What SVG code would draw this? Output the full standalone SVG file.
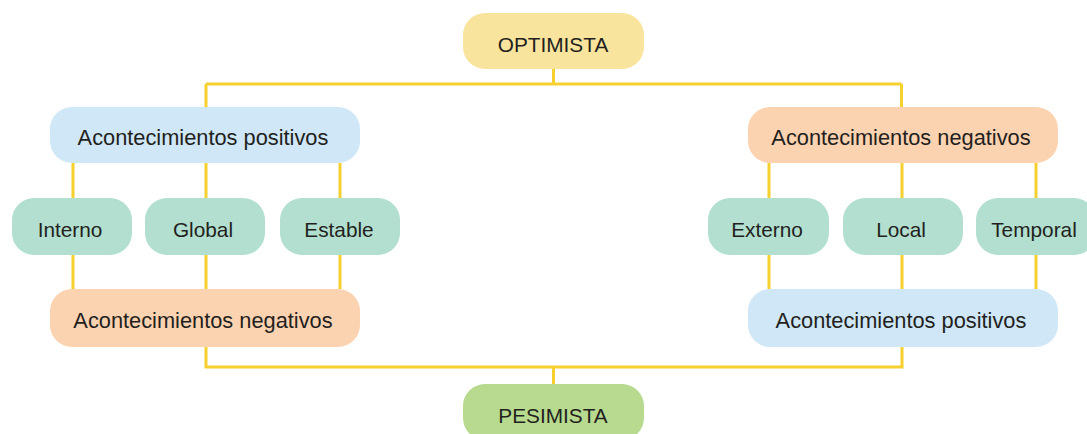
<svg xmlns="http://www.w3.org/2000/svg" width="1087" height="434" viewBox="0 0 1087 434">
<style>
.t{font-family:"Liberation Sans",Arial,sans-serif;font-size:20.8px;fill:#231F20;text-anchor:middle}
.l{font-size:21.8px}
.ln{fill:none;stroke:#F6D02E;stroke-width:3}
.y{fill:#F8E49C}.b{fill:#CFE7F7}.o{fill:#FCD3B1}.g{fill:#B2DFCF}.p{fill:#B8DA8F}
</style>
<rect width="1087" height="434" fill="#fff"/>
<g id="connectors" class="ln">
<path d="M553.5 69V84M206 84H901.5M206 84V107M901.5 84V107"/>
<path d="M73 163V198M206 163V198M340 163V198M73 255V289M206 255V289M340 255V289"/>
<path d="M769 163V198M902 163V198M1036 163V198M769 255V289M902 255V289M1036 255V289"/>
<path d="M206 347V367H902V347M553.5 367V384"/>
</g>
<g id="optimista"><rect class="y" x="463" y="13" width="181" height="56" rx="22"/><text class="t" x="553" y="52">OPTIMISTA</text></g>
<g id="pos-left"><rect class="b" x="50" y="107" width="310" height="56" rx="22"/><text class="t l" x="203" y="145">Acontecimientos positivos</text></g>
<g id="interno"><rect class="g" x="12" y="198" width="120" height="57" rx="22"/><text class="t" x="70" y="237">Interno</text></g>
<g id="global"><rect class="g" x="145" y="198" width="120" height="57" rx="22"/><text class="t" x="203" y="237">Global</text></g>
<g id="estable"><rect class="g" x="280" y="198" width="120" height="57" rx="22"/><text class="t" x="339" y="237">Estable</text></g>
<g id="neg-left"><rect class="o" x="50" y="289" width="310" height="58" rx="22"/><text class="t l" x="203" y="328">Acontecimientos negativos</text></g>
<g id="neg-right"><rect class="o" x="748" y="107" width="310" height="56" rx="22"/><text class="t l" x="901" y="145">Acontecimientos negativos</text></g>
<g id="externo"><rect class="g" x="708" y="198" width="121" height="57" rx="22"/><text class="t" x="767" y="237">Externo</text></g>
<g id="local"><rect class="g" x="843" y="198" width="120" height="57" rx="22"/><text class="t" x="901" y="237">Local</text></g>
<g id="temporal"><rect class="g" x="976" y="198" width="120" height="57" rx="22"/><text class="t" x="1034" y="237">Temporal</text></g>
<g id="pos-right"><rect class="b" x="748" y="289" width="310" height="58" rx="22"/><text class="t l" x="901" y="328">Acontecimientos positivos</text></g>
<g id="pesimista"><rect class="p" x="463" y="384" width="181" height="56" rx="22"/><text class="t" x="553" y="423">PESIMISTA</text></g>
</svg>
